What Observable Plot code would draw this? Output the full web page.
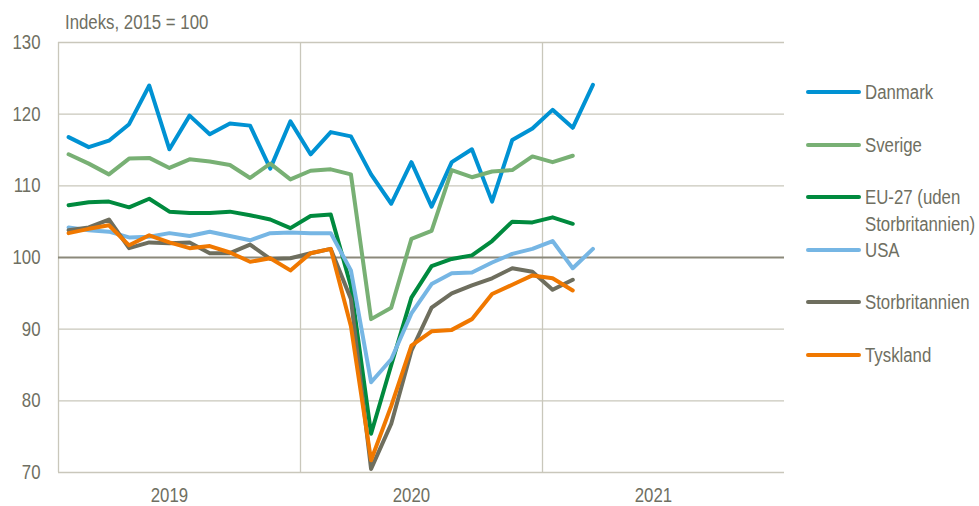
<!DOCTYPE html>
<html>
<head>
<meta charset="utf-8">
<script src="https://cdn.jsdelivr.net/npm/d3@7"></script>
<script src="https://cdn.jsdelivr.net/npm/@observablehq/plot@0.6"></script>
<style>
  html, body { margin: 0; padding: 0; background: #fff; }
  #wrap { position: relative; width: 979px; height: 506px; overflow: hidden; font-family: "Liberation Sans", Arial, sans-serif; color: #6f6f62; }
  .narrow { display: inline-block; transform: scaleX(0.84); transform-origin: 0 0; white-space: nowrap; }
  #title { position: absolute; left: 65px; top: 12px; font-size: 20px; line-height: 20px; white-space: nowrap; }
  #legend { position: absolute; left: 0; top: 0; }
  .item { position: absolute; left: 806px; }
  .swatch { position: absolute; left: 0; top: -2px; width: 55px; height: 4px; border-radius: 2px; }
  .lab { position: absolute; left: 59px; top: -13px; font-size: 20px; line-height: 27px; white-space: nowrap; }
</style>
</head>
<body>
<div id="wrap">
  <div id="chart"></div>
  <div id="title"></div>
  <div id="legend"></div>
</div>
<script>
// ---- data (monthly index, Jan 2019 onward) ----
const yearLabels = ["2019", "2020", "2021"];
const yTicks = [70, 80, 90, 100, 110, 120, 130];
const titleText = "Indeks, 2015 = 100";

const countries = ["Danmark", "Sverige", "EU-27 (uden Storbritannien)", "USA", "Storbritannien", "Tyskland"];
const legendLines = [["Danmark"], ["Sverige"], ["EU-27 (uden", "Storbritannien)"], ["USA"], ["Storbritannien"], ["Tyskland"]];
const colors = ["#0092d3", "#78b074", "#008a3e", "#76b6e4", "#6e6e5e", "#f07800"];

const danmark = [116.8, 115.4, 116.3, 118.6, 124.0, 115.1, 119.8, 117.2, 118.7, 118.4, 112.4, 119.0,
                 114.4, 117.5, 116.9, 111.6, 107.5, 113.3, 107.1, 113.3, 115.1, 107.8, 116.4, 118.0,
                 120.6, 118.1, 124.1];
const sverige = [114.4, 113.1, 111.6, 113.8, 113.9, 112.5, 113.7, 113.4, 112.9, 111.1, 113.1, 110.9,
                 112.1, 112.3, 111.6, 91.4, 93.0, 102.6, 103.7, 112.2, 111.2, 112.0, 112.2, 114.1,
                 113.3, 114.2];
const eu27 = [107.3, 107.7, 107.8, 107.0, 108.2, 106.4, 106.2, 106.2, 106.4, 105.9, 105.3, 104.1,
              105.8, 106.0, 96.0, 75.4, 85.0, 94.4, 98.8, 99.8, 100.3, 102.3, 105.0, 104.9,
              105.6, 104.7];
const usa = [104.2, 103.8, 103.6, 102.8, 102.9, 103.4, 103.0, 103.6, 103.0, 102.4, 103.4, 103.5,
             103.4, 103.4, 98.2, 82.6, 85.8, 92.2, 96.3, 97.8, 97.9, 99.3, 100.5, 101.2,
             102.3, 98.5, 101.2];
const storbritannien = [103.8, 104.2, 105.3, 101.3, 102.1, 102.0, 102.1, 100.6, 100.6, 101.8, 99.8, 99.9,
                        100.6, 101.2, 94.2, 70.5, 76.8, 87.0, 93.0, 95.0, 96.1, 97.1, 98.5, 98.0,
                        95.5, 96.9];
const tyskland = [103.4, 104.0, 104.5, 101.7, 103.1, 102.1, 101.3, 101.6, 100.7, 99.4, 99.9, 98.2,
                  100.6, 101.2, 90.4, 71.7, 79.3, 87.7, 89.7, 89.9, 91.4, 94.9, 96.2, 97.5,
                  97.1, 95.4];

const series = [danmark, sverige, eu27, usa, storbritannien, tyskland];

// ---- build table ----
const rows = [];
series.forEach((vals, k) => vals.forEach((v, i) => rows.push({country: countries[k], m: i + 0.5, value: v})));

const textColor = "#6f6f62";
const gridColor = "#c9c7bb";

const chart = Plot.plot({
  width: 979,
  height: 506,
  marginLeft: 58,
  marginRight: 195,
  marginTop: 42,
  marginBottom: 34,
  style: {fontFamily: "'Liberation Sans', Arial, sans-serif", fontSize: "20px", color: textColor, background: "#fff"},
  x: {domain: [0, 36], axis: null},
  y: {domain: [70, 130], axis: null},
  color: {domain: countries, range: colors},
  marks: [
    Plot.ruleY(yTicks.filter(d => d !== 100 && d !== 70), {stroke: gridColor, strokeWidth: 1.3}),
    Plot.ruleX([12, 24], {stroke: gridColor, strokeWidth: 1.3}),
    Plot.ruleX([0], {stroke: gridColor, strokeWidth: 1.3}),
    Plot.ruleY([70], {stroke: gridColor, strokeWidth: 1.3}),
    Plot.ruleY([100], {stroke: "#8b897b", strokeWidth: 2}),
    Plot.axisY(yTicks, {tickSize: 0, tickPadding: 18, fontSize: 20, fill: textColor, label: null}),
    Plot.axisX([5.5, 17.5, 29.5], {tickSize: 0, tickPadding: 15, fontSize: 20, fill: textColor, label: null,
      tickFormat: d => yearLabels[Math.floor(d / 12)]}),
    Plot.line(rows, {x: "m", y: "value", z: "country", stroke: "country", strokeWidth: 4,
      strokeLinejoin: "round", strokeLinecap: "round"})
  ]
});
document.getElementById("chart").appendChild(chart);

// condense SVG text to mimic a narrow font
chart.querySelectorAll("text").forEach(t => {
  const len = t.getComputedTextLength();
  if (len > 0) {
    t.setAttribute("textLength", (len * 0.84).toFixed(2));
    t.setAttribute("lengthAdjust", "spacingAndGlyphs");
  }
});

function narrowHTML(lines) {
  return lines.map(s => `<span class="narrow">${s}</span>`).join("<br>");
}
document.getElementById("title").innerHTML = narrowHTML([titleText]);

const rowY = [92, 144.5, 197, 249.5, 302, 354.5];
const legend = document.getElementById("legend");
countries.forEach((c, k) => {
  const it = document.createElement("div");
  it.className = "item";
  it.style.top = rowY[k] + "px";
  const sw = document.createElement("div");
  sw.className = "swatch";
  sw.style.background = colors[k];
  const lab = document.createElement("div");
  lab.className = "lab";
  lab.innerHTML = narrowHTML(legendLines[k]);
  it.appendChild(sw);
  it.appendChild(lab);
  legend.appendChild(it);
});
</script>
</body>
</html>
